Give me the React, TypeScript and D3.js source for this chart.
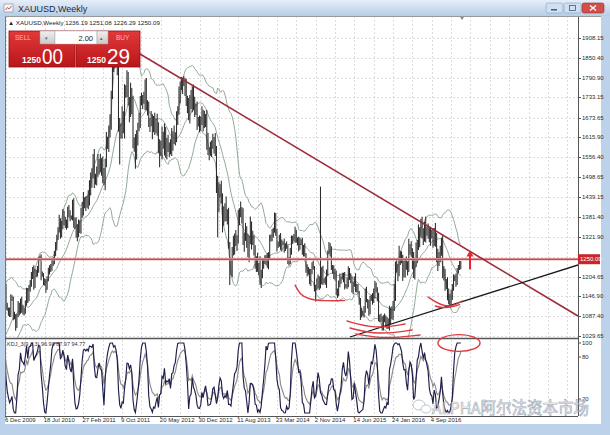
import React from "react";
import * as d3 from "d3";

// weekly bars, each one starts on a Sunday; index 0 = week of 5 Jul 2009
const firstWeek = new Date(2009, 6, 5);

const close2009 = [911, 937, 953, 953, 958, 947, 940, 953, 955, 996, 1007, 991, 990, 1049, 1050, 1055, 1045, 1096, 1118, 1142, 1175, 1163, 1118, 1109, 1104, 1096];
const close2010 = [1138, 1140, 1091, 1084, 1063, 1090, 1118, 1105, 1135, 1103, 1107, 1105, 1124, 1161, 1137, 1175, 1180, 1208, 1228, 1176, 1213, 1220, 1226, 1256, 1256, 1209, 1210, 1190, 1188, 1181, 1201, 1216, 1228, 1237, 1247, 1246, 1275, 1297, 1318, 1345, 1372, 1326, 1359, 1394, 1366, 1353, 1363, 1406, 1385, 1378, 1380, 1421];
const close2011 = [1369, 1360, 1344, 1341, 1348, 1361, 1388, 1410, 1429, 1421, 1418, 1428, 1429, 1474, 1487, 1504, 1556, 1491, 1493, 1509, 1536, 1542, 1527, 1539, 1500, 1484, 1542, 1601, 1602, 1625, 1663, 1743, 1852, 1828, 1877, 1856, 1813, 1657, 1622, 1636, 1682, 1642, 1742, 1754, 1788, 1724, 1685, 1746, 1713, 1598, 1605, 1565];
const close2012 = [1616, 1643, 1663, 1727, 1725, 1724, 1725, 1776, 1710, 1700, 1656, 1663, 1668, 1640, 1658, 1642, 1660, 1645, 1580, 1590, 1575, 1622, 1592, 1626, 1570, 1598, 1582, 1590, 1580, 1618, 1606, 1620, 1616, 1672, 1692, 1740, 1770, 1773, 1777, 1780, 1757, 1723, 1711, 1676, 1730, 1714, 1751, 1705, 1705, 1696, 1657, 1660, 1655];
const close2013 = [1662, 1687, 1658, 1669, 1666, 1609, 1573, 1576, 1577, 1592, 1606, 1598, 1575, 1476, 1405, 1463, 1467, 1435, 1365, 1387, 1411, 1383, 1388, 1297, 1234, 1223, 1277, 1295, 1322, 1310, 1312, 1376, 1396, 1395, 1386, 1308, 1325, 1338, 1310, 1272, 1315, 1352, 1315, 1308, 1287, 1243, 1250, 1229, 1235, 1196, 1210, 1238];
const close2014 = [1247, 1253, 1264, 1241, 1262, 1318, 1324, 1330, 1339, 1379, 1335, 1294, 1303, 1318, 1294, 1304, 1302, 1290, 1293, 1292, 1252, 1252, 1274, 1316, 1320, 1320, 1337, 1310, 1307, 1294, 1310, 1304, 1279, 1288, 1269, 1231, 1216, 1218, 1192, 1222, 1237, 1231, 1171, 1169, 1185, 1201, 1175, 1192, 1222, 1195, 1195, 1186];
const close2015 = [1216, 1277, 1293, 1279, 1234, 1228, 1203, 1213, 1165, 1152, 1183, 1199, 1201, 1206, 1203, 1177, 1178, 1188, 1225, 1205, 1190, 1168, 1180, 1200, 1174, 1168, 1157, 1132, 1097, 1094, 1094, 1113, 1160, 1134, 1121, 1104, 1138, 1146, 1137, 1155, 1182, 1163, 1142, 1088, 1081, 1077, 1056, 1086, 1075, 1065, 1076, 1061];
const close2016 = [1104, 1089, 1097, 1118, 1158, 1239, 1227, 1221, 1271, 1259, 1254, 1217, 1222, 1244, 1235, 1233, 1291, 1289, 1273, 1252, 1216, 1243, 1275, 1298, 1316, 1340, 1366, 1327, 1323, 1357, 1335, 1336, 1341, 1321, 1327, 1328, 1310, 1338, 1318, 1257, 1251, 1267, 1276, 1304, 1225, 1208, 1183, 1178, 1160, 1134, 1133, 1151];
const close2017 = [1173, 1197, 1204, 1190, 1220, 1234, 1236, 1250.09];

// wick lengths above / below the body, in 5$ steps
const upWicks = [
  "21232121322123132221214212",
  "3212213212312221321231212321221321231221312213212312",
  "3243524352436354253462534526354253642534526354263524",
  "43524352634253462534352643524536243524352634253462534",
  "3425364253426354243526342536243526342534263542352634",
  "2312321323121232132312321231232132312321231232132312",
  "2132312321231223132123213231232123132123212313212321",
  "3243524352436243524352634253425342534253624352435243",
  "23122132",
].join("");
const dnWicks = [
  "12312232121321232123122132",
  "2131221321232121312212321312213212321231221321231212",
  "4352436253425364253426354253462534263542536243526354",
  "35243526342536243524352634253462534253624352435263425",
  "4253462534263542536243526342536243526342536243524352",
  "2132312321231223132123213231232123132123212313212321",
  "3213231232123132123212313212321231232132312321231232",
  "3524352634253425342534263542536243524352634253425342",
  "32132123",
].join("");

// weekly extremes that stand out on the chart
const spikeHighs: [number, number][] = [[21, 1226], [111, 1912], [113, 1921], [138, 1790], [169, 1796], [245, 1392], [282, 1470], [289, 1307], [363, 1358], [365, 1375], [398, 1251.08]];
const spikeLows: [number, number][] = [[30, 1045], [55, 1157], [81, 1309], [116, 1535], [129, 1523], [149, 1527], [197, 1321], [207, 1180], [278, 1131], [315, 1077], [334, 1046], [388, 1123], [398, 1226.29]];

const priceTicks = [1908.15, 1850.4, 1790.9, 1733.15, 1673.65, 1615.9, 1556.4, 1498.65, 1439.15, 1381.4, 1321.9, 1263.4, 1204.65, 1146.9, 1087.4, 1029.65];
const hiddenTick = 1263.4; // its label sits under the bid box
const kdjTicks = [100, 80, 20];

// drawn objects: [week index, price]
const downTrend: [number, number][] = [[141.1, 1843.3], [494.9, 1088.6]];
const upTrend: [number, number][] = [[306.4, 1026.7], [494.9, 1239]];
const levelLine = 1256;
const bidPrice = "1250.09";

// hand drawn red marks: [week index, price]
const marks: [number, number][][] = [
  [[261, 1180], [265, 1152], [272, 1138], [285, 1133], [302, 1134]],
  [[303.9, 1073.8], [327.1, 1050.2], [351.9, 1064.9]],
  [[306.4, 1053.1], [329.6, 1032.6], [357.7, 1047.3]],
  [[311.4, 1035.5], [335.4, 1020.8], [364.3, 1032.6]],
  [[370.9, 1144.6], [380.8, 1121], [390.7, 1115.1], [399, 1132.8]],
  [[377, 1118], [385, 1110], [397, 1122]],
];
const arrowMark: [number, number][] = [[405.6, 1226], [405.6, 1282]];
const kdjCircle = { i: 396.5, v: 100, ri: 17.4, rv: 12 };

const closes = [...close2009, ...close2010, ...close2011, ...close2012, ...close2013, ...close2014, ...close2015, ...close2016, ...close2017];

const wick = (s: string, i: number) => parseInt(s[i] ?? "2", 36) * 5;

export default function App() {
  const W = 610, H = 435;
  const L = 5, R = 578, T = 16, MB = 338, SB = 416;

  const x = d3.scaleLinear().domain([22, 398]).range([6, 460.8]);
  const y = d3.scaleLinear().domain([1029.65, 1908.15]).range([336, 38]);
  const yk = d3.scaleLinear().domain([0, 100]).range([413, 343]);

  const hiOver = new Map(spikeHighs);
  const loOver = new Map(spikeLows);
  const bars = closes.map((c, i) => {
    const o = i === 0 ? c : closes[i - 1];
    const hi = hiOver.get(i) ?? Math.max(o, c) + wick(upWicks, i);
    const lo = loOver.get(i) ?? Math.min(o, c) - wick(dnWicks, i);
    return { i, o, c, hi, lo };
  });

  // Bollinger bands 20, 2
  const bb = closes.map((_, i) => {
    if (i < 19) return null;
    const w = closes.slice(i - 19, i + 1);
    const m = d3.mean(w)!;
    const sd = Math.sqrt(d3.mean(w, (v) => (v - m) ** 2)!);
    return { i, m, u: m + 2 * sd, l: m - 2 * sd };
  });
  const bbPts = bb.filter((d) => d !== null) as { i: number; m: number; u: number; l: number }[];

  // KDJ 9,3,3
  let K = 50, D = 50;
  const kdj = bars.map((b, i) => {
    const win = bars.slice(Math.max(0, i - 8), i + 1);
    const hh = d3.max(win, (d) => d.hi)!;
    const ll = d3.min(win, (d) => d.lo)!;
    const rsv = hh === ll ? 50 : ((b.c - ll) / (hh - ll)) * 100;
    K = (2 * K + rsv) / 3;
    D = (2 * D + K) / 3;
    return { i, K, D, J: 3 * K - 2 * D };
  });
  const clamp = (v: number) => Math.max(0, Math.min(100, v));

  const bandLine = (key: "u" | "m" | "l") =>
    d3.line<{ i: number; m: number; u: number; l: number }>().x((d) => x(d.i)).y((d) => y(d[key]))(bbPts)!;
  const kLine = (key: "K" | "J") =>
    d3.line<{ i: number; K: number; D: number; J: number }>().x((d) => x(d.i)).y((d) => yk(clamp(d[key])))(kdj)!;
  const markLine = d3.line<[number, number]>().x((d) => x(d[0])).y((d) => y(d[1])).curve(d3.curveBasis);

  const vGrid: number[] = [];
  for (let i = 22; x(i) < R; i += 16) vGrid.push(i);
  const dateLabels = vGrid.filter((i, k) => k % 2 === 0 && i <= 398);
  const fmt = d3.timeFormat("%-d %b %Y");

  const trendEnd = (t: [number, number][], xi: number) => {
    const [[i1, p1], [i2, p2]] = t;
    return p1 + ((p2 - p1) * (xi - i1)) / (i2 - i1);
  };
  const iAt = (px: number) => x.invert(px);

  const font = "Liberation Sans, Arial, sans-serif";
  const ly = y(levelLine);

  return (
    <svg width={W} height={H} style={{ position: "absolute", left: 0, top: 0 }} fontFamily={font}>
      <defs>
        <linearGradient id="tb" x1="0" y1="0" x2="0" y2="1">
          <stop offset="0" stopColor="#e6eef8" />
          <stop offset="1" stopColor="#b6cde6" />
        </linearGradient>
        <linearGradient id="red" x1="0" y1="0" x2="0" y2="1">
          <stop offset="0" stopColor="#e2393b" />
          <stop offset="1" stopColor="#b8161a" />
        </linearGradient>
        <linearGradient id="gray" x1="0" y1="0" x2="0" y2="1">
          <stop offset="0" stopColor="#f0f0f0" />
          <stop offset="1" stopColor="#c9c9c9" />
        </linearGradient>
        <clipPath id="mainClip">
          <rect x={L} y={T} width={R - L} height={MB - T} />
        </clipPath>
        <clipPath id="subClip">
          <rect x={L} y={MB + 1} width={R - L} height={SB - MB - 1} />
        </clipPath>
      </defs>

      {/* window frame */}
      <rect x={0} y={0} width={W} height={H} fill="#bcd2ea" />
      <rect x={0} y={0} width={W} height={16} fill="url(#tb)" />
      <rect x={4} y={4} width={9} height={8} fill="#f4f4f4" stroke="#7a8aa0" strokeWidth={0.6} />
      <path d="M5.5,10 L7.5,7.5 L9,9 L11.5,6" fill="none" stroke="#c03030" strokeWidth={0.8} />
      <text x={18} y={11.5} fontSize={9} fill="#1e2a3a">XAUUSD,Weekly</text>
      <rect x={546} y={3} width={17} height={10} rx={2} fill="#cfe0f2" stroke="#8aa3c0" strokeWidth={0.6} />
      <rect x={551} y={9} width={6} height={1.5} fill="#4a5a70" />
      <rect x={564} y={3} width={17} height={10} rx={2} fill="#cfe0f2" stroke="#8aa3c0" strokeWidth={0.6} />
      <rect x={569.5} y={5.5} width={6} height={5} fill="none" stroke="#4a5a70" strokeWidth={0.8} />
      <rect x={582} y={3} width={22} height={10} rx={2} fill="#d0514a" stroke="#9a2e28" strokeWidth={0.6} />
      <path d="M590,5.5 L596,10.5 M596,5.5 L590,10.5" stroke="#fff" strokeWidth={1.2} />

      <rect x={L} y={T} width={601 - L} height={424 - T} fill="#fff" />

      {/* grid */}
      <g stroke="#cdcdcd" strokeWidth={0.7} strokeDasharray="2,2">
        {priceTicks.map((p) => (
          <line key={p} x1={L} x2={R} y1={Math.round(y(p)) + 0.5} y2={Math.round(y(p)) + 0.5} />
        ))}
        {vGrid.map((i) => (
          <line key={i} x1={Math.round(x(i)) + 0.5} x2={Math.round(x(i)) + 0.5} y1={T} y2={SB} />
        ))}
      </g>

      {/* price window */}
      <g clipPath="url(#mainClip)">
        <g fill="none" stroke="#86a08c" strokeWidth={0.9}>
          <path d={bandLine("u")} />
          <path d={bandLine("m")} />
          <path d={bandLine("l")} />
        </g>
        <g stroke="#2a2a2a" strokeWidth={1.05}>
          {bars.map((b) => (
            <line key={b.i} x1={x(b.i)} x2={x(b.i)} y1={y(b.hi)} y2={y(b.lo)} />
          ))}
        </g>
        <line x1={L} x2={R} y1={ly} y2={ly} stroke="#eab0b0" strokeWidth={2.6} />
        <line x1={L} x2={R} y1={ly} y2={ly} stroke="#b42a2e" strokeWidth={1} />
        <line
          x1={x(iAt(120))} y1={y(trendEnd(downTrend, iAt(120)))}
          x2={R} y2={y(trendEnd(downTrend, iAt(R)))}
          stroke="#9e2a3a" strokeWidth={1.6}
        />
        <line
          x1={x(upTrend[0][0])} y1={y(upTrend[0][1])}
          x2={R} y2={y(trendEnd(upTrend, iAt(R)))}
          stroke="#1a1a1a" strokeWidth={1.3}
        />
        <path d="M460,17 L464,17 L462,20 Z" fill="#8a8a8a" />
      </g>

      {/* KDJ window */}
      <g clipPath="url(#subClip)" fill="none" strokeWidth={1.15}>
        <path d={kLine("K")} stroke="#8f8a88" />
        <path d={kLine("J")} stroke="#1e1e4a" />
      </g>
      <text x={7} y={346} fontSize={5.5} fill="#333">KDJ_3(9,3,3) 96.90 87.97 94.77</text>

      {/* frame lines and axes */}
      <line x1={L + 0.5} x2={L + 0.5} y1={T} y2={SB} stroke="#777" />
      <line x1={R + 0.5} x2={R + 0.5} y1={T} y2={SB} stroke="#555" />
      <line x1={L} x2={R} y1={MB + 0.5} y2={MB + 0.5} stroke="#555" strokeWidth={1.6} />
      <line x1={L} x2={R} y1={SB + 0.5} y2={SB + 0.5} stroke="#555" />
      <line x1={L} x2={601} y1={T + 0.5} y2={T + 0.5} stroke="#999" />

      <g fontSize={6} fill="#2a2a2a">
        {priceTicks.map((p) => (
          <g key={p}>
            <line x1={R} x2={R + 3} y1={Math.round(y(p)) + 0.5} y2={Math.round(y(p)) + 0.5} stroke="#555" />
            {p !== hiddenTick && <text x={582} y={y(p) + 2}>{p.toFixed(2)}</text>}
          </g>
        ))}
        {kdjTicks.map((v) => (
          <g key={v}>
            <line x1={R} x2={R + 3} y1={yk(v)} y2={yk(v)} stroke="#555" />
            <text x={582} y={yk(v) + 2}>{v}</text>
          </g>
        ))}
        {dateLabels.map((i) => (
          <g key={i}>
            <line x1={x(i)} x2={x(i)} y1={SB} y2={SB + 2} stroke="#555" />
            <text x={x(i) - 1} y={421.5}>{fmt(d3.timeWeek.offset(firstWeek, i))}</text>
          </g>
        ))}
      </g>
      <rect x={R} y={ly - 5} width={22} height={10} fill="#c7262c" />
      <text x={580} y={ly + 2} fontSize={6} fill="#fff">{bidPrice}</text>

      {/* hand drawn marks */}
      <g fill="none" stroke="#dc3a40" strokeWidth={1.4} strokeLinecap="round">
        {marks.map((m, k) => (
          <path key={k} d={markLine(m)!} />
        ))}
        <ellipse
          cx={x(kdjCircle.i)} cy={yk(kdjCircle.v)}
          rx={x(kdjCircle.i + kdjCircle.ri) - x(kdjCircle.i)}
          ry={yk(0) - yk(kdjCircle.rv)}
        />
      </g>
      <line x1={x(arrowMark[0][0])} x2={x(arrowMark[1][0])} y1={y(arrowMark[0][1])} y2={y(arrowMark[1][1]) + 4} stroke="#e0282e" strokeWidth={2} />
      <path
        d={`M${x(arrowMark[1][0])},${y(arrowMark[1][1])} l-3.5,6 l7,0 Z`}
        fill="#e0282e"
      />

      {/* header + one click trading panel */}
      <text x={8} y={25} fontSize={6.2} fill="#222">▲ XAUUSD,Weekly  1236.19 1251.08 1226.29 1250.09</text>
      <rect x={9} y={31} width={66} height={36} fill="url(#red)" stroke="#8e1114" strokeWidth={0.8} />
      <rect x={76} y={31} width={64} height={36} fill="url(#red)" stroke="#8e1114" strokeWidth={0.8} />
      <text x={15} y={40} fontSize={6.5} fill="#f6b8b8">SELL</text>
      <text x={116} y={40} fontSize={6.5} fill="#f6b8b8">BUY</text>
      <rect x={40} y={31} width={15} height={13} fill="url(#gray)" stroke="#9a9a9a" strokeWidth={0.5} />
      <rect x={55} y={31} width={42} height={13} fill="#fff" stroke="#b0b0b0" strokeWidth={0.5} />
      <rect x={97} y={31} width={11} height={13} fill="url(#gray)" stroke="#9a9a9a" strokeWidth={0.5} />
      <text x={45} y={40} fontSize={5} fill="#666">▾</text>
      <text x={100} y={40} fontSize={5} fill="#666">▴</text>
      <text x={93} y={40.5} fontSize={7.5} fill="#222" textAnchor="end">2.00</text>
      <text x={22} y={63} fontSize={8.5} fontWeight="bold" fill="#fff">1250</text>
      <text x={42} y={64} fontSize={22} fill="#fff" textLength={21} lengthAdjust="spacingAndGlyphs">00</text>
      <text x={87} y={63} fontSize={8.5} fontWeight="bold" fill="#fff">1250</text>
      <text x={107} y={64} fontSize={22} fill="#fff" textLength={23} lengthAdjust="spacingAndGlyphs">29</text>

      {/* watermark */}
      <g opacity={0.75} fill="#fff" stroke="#8592a6" strokeWidth={0.7}>
        <ellipse cx={419} cy={405} rx={6} ry={5} />
        <ellipse cx={426} cy={409} rx={5} ry={4} />
        <text x={432} y={414} fontSize={16.5} fontFamily="Noto Sans CJK SC, Noto Sans, sans-serif" textLength={157} lengthAdjust="spacingAndGlyphs">ALPHA阿尔法资本市场</text>
      </g>
    </svg>
  );
}
